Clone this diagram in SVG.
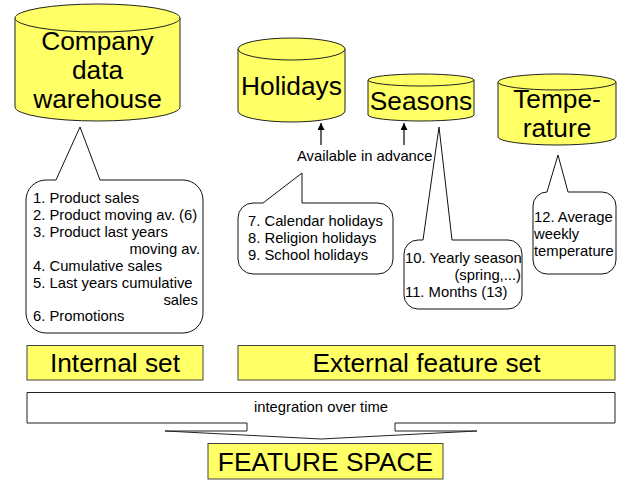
<svg xmlns="http://www.w3.org/2000/svg" width="628" height="485" viewBox="0 0 628 485">
<style>
.cyl{fill:#ffff66;stroke:#222;stroke-width:1}
.box{fill:#ffff66;stroke:#444;stroke-width:1}
.call{fill:#fff;stroke:#111;stroke-width:1}
.big{font-family:"Liberation Sans",Arial,sans-serif;font-size:26.3px;fill:#000}
.sm{font-family:"Liberation Sans",Arial,sans-serif;font-size:14.8px;fill:#000}
.mid{text-anchor:middle}
.end{text-anchor:end}
</style>
<defs>
<marker id="ah" viewBox="0 0 10 10" refX="10" refY="5" markerWidth="7" markerHeight="7" orient="auto" markerUnits="userSpaceOnUse">
<path d="M0,0 L10,5 L0,10 Z" fill="#000"/>
</marker>
</defs>
<rect width="628" height="485" fill="#fff"/>

<g id="warehouse">
<path class="cyl" d="M15,18 V107 A82.5,14 0 0 0 180,107 V18"/>
<ellipse class="cyl" cx="97.5" cy="18" rx="82.5" ry="14"/>
<text class="big mid" x="97.5" y="50">Company</text>
<text class="big mid" x="97.5" y="79">data</text>
<text class="big mid" x="97.5" y="108">warehouse</text>
</g>

<g id="holidays">
<path class="cyl" d="M238,49 V111 A53.5,11 0 0 0 345,111 V49"/>
<ellipse class="cyl" cx="291.5" cy="49" rx="53.5" ry="11"/>
<text class="big mid" x="291.5" y="95">Holidays</text>
</g>

<g id="seasons">
<path class="cyl" d="M368,80 V115 A53,6 0 0 0 474,115 V80"/>
<ellipse class="cyl" cx="421" cy="80" rx="53" ry="6"/>
<text class="big mid" x="421" y="110">Seasons</text>
</g>

<g id="temperature">
<path class="cyl" d="M498,82 V137 A59,8 0 0 0 616,137 V82"/>
<ellipse class="cyl" cx="557" cy="82" rx="59" ry="8"/>
<text class="big mid" x="557" y="108">Tempe-</text>
<text class="big mid" x="557" y="137">rature</text>
</g>

<g id="connectors">
<line x1="321" y1="145" x2="321" y2="123" stroke="#000" stroke-width="1.2" marker-end="url(#ah)"/>
<line x1="404" y1="145" x2="404" y2="123" stroke="#000" stroke-width="1.2" marker-end="url(#ah)"/>
</g>
<text id="advance" class="sm" x="297" y="161">Available in advance</text>

<g id="callout-internal">
<path class="call" d="M46,180 H56 L80,127 L100,180 H183 A20,20 0 0 1 203,200 V313 A20,20 0 0 1 183,333 H46 A20,20 0 0 1 26,313 V200 A20,20 0 0 1 46,180 Z"/>
<text class="sm" x="33" y="203">1. Product sales</text>
<text class="sm" x="33" y="220">2. Product moving av. (6)</text>
<text class="sm" x="33" y="237">3. Product last years</text>
<text class="sm end" x="200" y="254">moving av.</text>
<text class="sm" x="33" y="271">4. Cumulative sales</text>
<text class="sm" x="33" y="288">5. Last years cumulative</text>
<text class="sm end" x="198" y="305">sales</text>
<text class="sm" x="33" y="321">6. Promotions</text>
</g>

<g id="callout-holidays">
<path class="call" d="M253,203 H263 L302,173 V203 H378 A15,15 0 0 1 393,218 V259 A15,15 0 0 1 378,274 H253 A15,15 0 0 1 238,259 V218 A15,15 0 0 1 253,203 Z"/>
<text class="sm" x="248" y="226">7. Calendar holidays</text>
<text class="sm" x="248" y="243">8. Religion holidays</text>
<text class="sm" x="248" y="260">9. School holidays</text>
</g>

<g id="callout-seasons">
<path class="call" d="M418,240 H423 L439,127 L452,240 H508 A14,14 0 0 1 522,254 V295 A14,14 0 0 1 508,309 H418 A14,14 0 0 1 404,295 V254 A14,14 0 0 1 418,240 Z"/>
<text class="sm" x="405" y="263">10. Yearly season</text>
<text class="sm end" x="521" y="280">(spring,...)</text>
<text class="sm" x="405" y="297">11. Months (13)</text>
</g>

<g id="callout-temperature">
<path class="call" d="M547,192 L558,155 L568,192 H602 A14,14 0 0 1 616,206 V260 A14,14 0 0 1 602,274 H547 A14,14 0 0 1 533,260 V206 A14,14 0 0 1 547,192 Z"/>
<text class="sm" x="534" y="222">12. Average</text>
<text class="sm" x="534" y="239">weekly</text>
<text class="sm" x="534" y="256">temperature</text>
</g>

<g id="internal-set">
<rect class="box" x="27" y="345.5" width="176" height="34.5"/>
<text class="big mid" x="115" y="372">Internal set</text>
</g>

<g id="external-set">
<rect class="box" x="238" y="345.5" width="377" height="34.5"/>
<text class="big mid" x="426.5" y="372">External feature set</text>
</g>

<g id="integration">
<path fill="#fff" stroke="#222" stroke-width="1" d="M27,392.5 H615 V423 H395 V431 H477 L321,439 L165,431 H247 V423 H27 Z"/>
<text class="sm mid" x="321" y="412">integration over time</text>
</g>

<g id="feature-space">
<rect class="box" x="208" y="443.5" width="235" height="35.5"/>
<text class="big mid" x="325.5" y="471">FEATURE SPACE</text>
</g>
</svg>
